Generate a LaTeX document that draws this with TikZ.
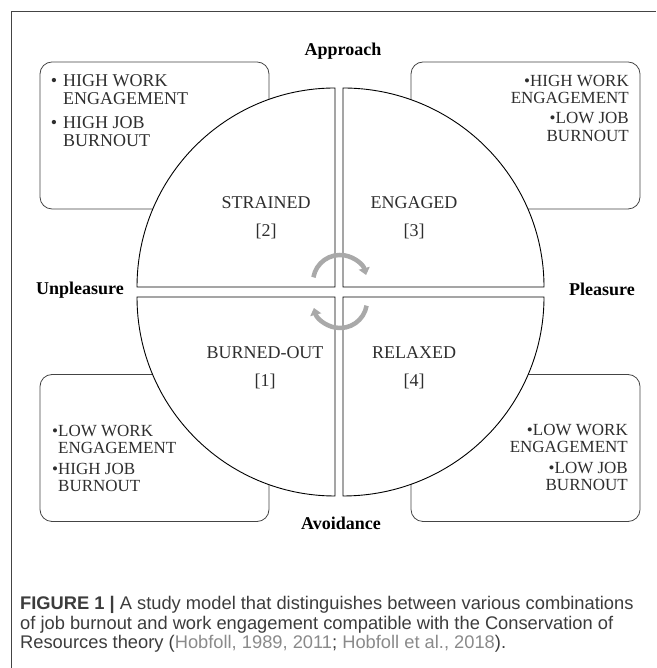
\documentclass[tikz,border=0pt]{standalone}
\usepackage{fontspec}
\setmainfont{Liberation Serif}
\newfontfamily\capfont{Liberation Sans}
\usetikzlibrary{positioning, arrows.meta}
\definecolor{boxline}{HTML}{444444}
\definecolor{inktext}{HTML}{2E2E2E}
\definecolor{cyclegrey}{HTML}{A9A9A9}
\definecolor{linkgrey}{HTML}{8A8A8A}
\definecolor{captext}{HTML}{3C3C3C}

\begin{document}
\begin{tikzpicture}[x=1pt, y=1pt, node distance={15pt},
    quadrant/.style = {draw=black, fill=white, line width=0.9pt},
    infobox/.style = {draw=boxline, rounded corners=12pt, line width=0.8pt,
                      minimum width=229pt, minimum height=147pt, inner sep=0pt},
    items/.style = {inner sep=0pt, text=inktext, font=\fontsize{17}{17}\selectfont},
    state/.style = {inner sep=0pt, text=inktext, font=\fontsize{18}{20}\selectfont},
    axis/.style = {inner sep=0pt, font=\bfseries\fontsize{18}{20}\selectfont},
    cycarrow/.style = {draw=cyclegrey, line width=4.5pt,
                       -{Triangle[width=11pt, length=7pt]}}]

    \useasboundingbox (0,0) rectangle (656,668);
    \draw[boxline, line width=0.9pt] (11,0) -- (11,657) -- (656,657);

    % boxes sit behind the circle
    \node[infobox] (hwhb) at (154.5,532.5) {};
    \node[infobox] (hwlb) at (525.5,532.5) {};
    \node[infobox] (lwhb) at (154.5,220) {};
    \node[infobox] (lwlb) at (525.5,220) {};

    % four quadrants
    \draw[quadrant] (335,381) -- (137,381)
        arc[start angle=180, end angle=90, x radius=198pt, y radius=199pt] -- cycle;
    \draw[quadrant] (343,381) -- (343,580)
        arc[start angle=90, end angle=0, x radius=201pt, y radius=199pt] -- cycle;
    \draw[quadrant] (335,371) -- (335,172)
        arc[start angle=270, end angle=180, x radius=198pt, y radius=199pt] -- cycle;
    \draw[quadrant] (343,371) -- (544,371)
        arc[start angle=0, end angle=-90, x radius=201pt, y radius=199pt] -- cycle;

    \node[state] (strained) at (266,465) {STRAINED};
    \node[state, below=15pt of strained] (strainedno) {[2]};
    \node[state] (engaged) at (414,465) {ENGAGED};
    \node[state, below=15pt of engaged] (engagedno) {[3]};
    \node[state] (burnedout) at (265,315) {BURNED-OUT};
    \node[state, below=15pt of burnedout] (burnedoutno) {[1]};
    \node[state] (relaxed) at (414,315) {RELAXED};
    \node[state, below=15pt of relaxed] (relaxedno) {[4]};

    \node[axis, anchor=base] (approach) at (343,612) {Approach};
    \node[axis, anchor=base west] (unpleasure) at (36,373) {Unpleasure};
    \node[axis, anchor=base east] (pleasure) at (635,372) {Pleasure};
    \node[axis, anchor=base] (avoidance) at (341,138) {Avoidance};

    \node[items, font=\fontsize{18}{18}\selectfont, align=left, anchor=north west]
        (hwhbtext) at (63,594) {\llap{\textbullet\hspace{6pt}}HIGH WORK\\ENGAGEMENT\\[6pt]%
        \llap{\textbullet\hspace{6pt}}HIGH JOB\\BURNOUT};
    \node[items, font=\fontsize{17}{17.5}\selectfont, align=right, anchor=north east]
        (hwlbtext) at (629,593) {\textbullet HIGH WORK\\ENGAGEMENT\\[2.5pt]%
        \textbullet LOW JOB\\BURNOUT};
    \node[items, align=left, anchor=north west]
        (lwhbtext) at (58,243) {\llap{\textbullet}LOW WORK\\ENGAGEMENT\\[4pt]%
        \llap{\textbullet}HIGH JOB\\BURNOUT};
    \node[items, align=right, anchor=north east]
        (lwlbtext) at (628,244) {\textbullet LOW WORK\\ENGAGEMENT\\[4pt]%
        \textbullet LOW JOB\\BURNOUT};

    % cycle arrows in the middle
    \coordinate (upc) at (340,386);
    \coordinate (lowc) at (340,367);
    \draw[cycarrow] ([shift={(170:27pt)}]upc) arc[start angle=170, end angle=15, radius=27pt];
    \draw[cycarrow] ([shift={(-10:27pt)}]lowc) arc[start angle=-10, end angle=-165, radius=27pt];

    \node[anchor=north west, inner sep=0pt, align=left, text=captext,
          font=\capfont\fontsize{18.3}{19.5}\selectfont] (caption) at (20,71.7)
        {\textbf{FIGURE 1 |} A study model that distinguishes between various combinations\\
         of job burnout and work engagement compatible with the Conservation of\\
         Resources theory (\textcolor{linkgrey}{Hobfoll, 1989, 2011};
         \textcolor{linkgrey}{Hobfoll et al., 2018}).};
\end{tikzpicture}
\end{document}
